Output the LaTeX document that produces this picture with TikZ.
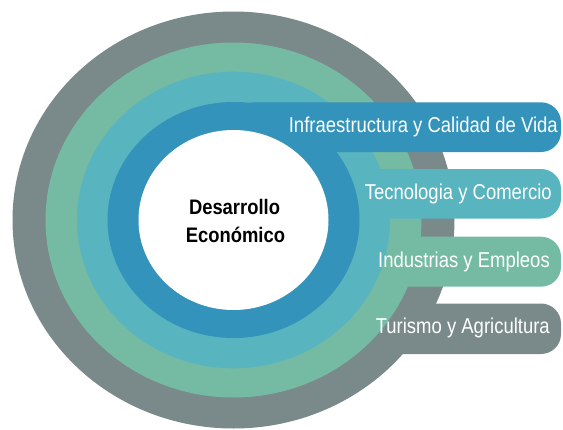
\documentclass[tikz,border=0pt]{standalone}
\usepackage{fontspec}
\newfontfamily\barfont[FakeStretch=0.86]{Liberation Sans}
\newfontfamily\ctrfont[FakeStretch=0.876]{Liberation Sans}
\definecolor{cgray}{RGB}{122,138,138}
\definecolor{cgreen}{RGB}{117,187,164}
\definecolor{cteal}{RGB}{88,180,190}
\definecolor{cblue}{RGB}{52,147,187}
\begin{document}
\begin{tikzpicture}[x=1pt,y=-1pt,
  bar/.style={rounded corners=20pt},
  bartext/.style={text=white, font=\barfont\fontsize{21.5}{24}\selectfont, anchor=base east, inner sep=0pt},
  ctext/.style={text=black, font=\ctrfont\bfseries\fontsize{21}{24}\selectfont, anchor=base, inner sep=0pt}]
\useasboundingbox (0,0) rectangle (563,429);
\coordinate (O) at (233.5,220);
% outer gray ring and bar
\fill[cgray] (O) ellipse[x radius=221pt, y radius=208.5pt];
\fill[cgray,bar] (233.5,303.5) rectangle (561,354);
% green ring and bar
\fill[cgreen] (O) ellipse[x radius=188pt, y radius=177.5pt];
\fill[cgreen,bar] (233.5,236.7) rectangle (561,286.7);
% teal ring and bar
\fill[cteal] (O) ellipse[x radius=156.5pt, y radius=148.3pt];
\fill[cteal,bar] (233.5,169) rectangle (561,218.5);
% blue ring and bar
\fill[cblue] (O) ellipse[x radius=126pt, y radius=118pt];
\fill[cblue,bar] (233.5,102.3) rectangle (561,152);
% white centre
\fill[white] (O) ellipse[x radius=95pt, y radius=90pt];
% texts
\node[ctext] (c1) at (234.5,214.3) {Desarrollo};
\node[ctext] (c2) at (235.5,242.7) {Económico};
\node[bartext] (t1) at (558,132.3) {Infraestructura y Calidad de Vida};
\node[bartext] (t2) at (552,199.8) {Tecnologia y Comercio};
\node[bartext] (t3) at (550,267) {Industrias y Empleos};
\node[bartext] (t4) at (550,333.8) {Turismo y Agricultura};
\end{tikzpicture}
\end{document}
